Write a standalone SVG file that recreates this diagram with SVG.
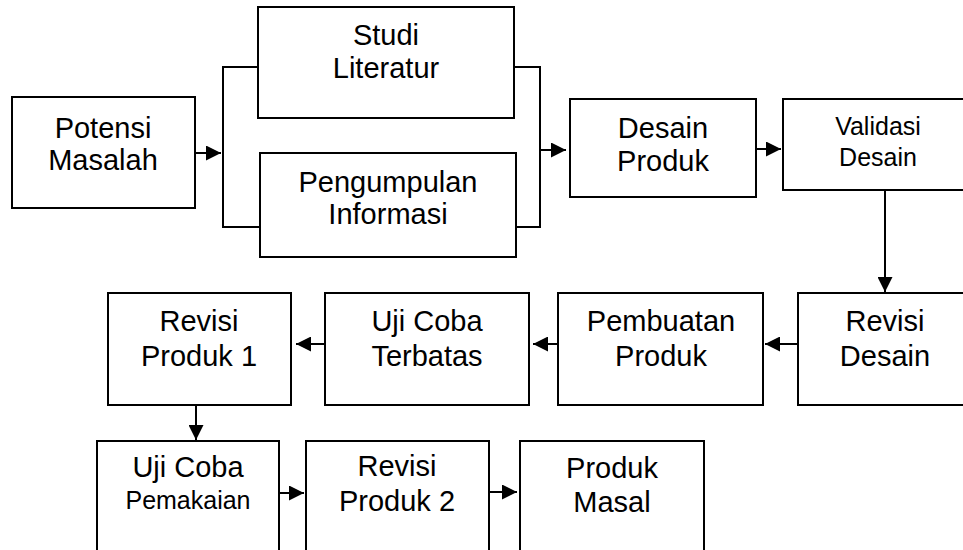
<svg xmlns="http://www.w3.org/2000/svg" width="963" height="550" viewBox="0 0 963 550">
<style>
.box{fill:#fff;stroke:#000;stroke-width:2}
.t{font-family:"Liberation Sans",Arial,sans-serif;font-size:29px;fill:#000;text-anchor:middle}
.s{font-size:25px}
.c{fill:none;stroke:#000;stroke-width:2}
</style>
<defs>
<marker id="ah" markerUnits="userSpaceOnUse" markerWidth="15" markerHeight="15" refX="15" refY="7.5" orient="auto">
<path d="M0,0 L15,7.5 L0,15 z" fill="#000"/>
</marker>
</defs>
<rect width="963" height="550" fill="#fff"/>
<g id="connectors">
<line class="c" x1="195" y1="153" x2="221" y2="153" marker-end="url(#ah)"/>
<path class="c" d="M258,67 H223 V227 H260"/>
<path class="c" d="M514,67 H540 V227 H516"/>
<line class="c" x1="540" y1="150" x2="566" y2="150" marker-end="url(#ah)"/>
<line class="c" x1="756" y1="149" x2="781" y2="149" marker-end="url(#ah)"/>
<line class="c" x1="885" y1="190" x2="885" y2="292" marker-end="url(#ah)"/>
<line class="c" x1="798" y1="344" x2="765" y2="344" marker-end="url(#ah)"/>
<line class="c" x1="558" y1="344" x2="533" y2="344" marker-end="url(#ah)"/>
<line class="c" x1="325" y1="344" x2="296" y2="344" marker-end="url(#ah)"/>
<line class="c" x1="196" y1="405" x2="196" y2="440" marker-end="url(#ah)"/>
<line class="c" x1="279" y1="493" x2="304" y2="493" marker-end="url(#ah)"/>
<line class="c" x1="489" y1="492" x2="517" y2="492" marker-end="url(#ah)"/>
</g>
<g id="potensi">
<rect class="box" x="12" y="97" width="183" height="111"/>
<text class="t" x="103" y="138">Potensi</text>
<text class="t" x="103" y="170">Masalah</text>
</g>
<g id="studi">
<rect class="box" x="258" y="7" width="256" height="111"/>
<text class="t" x="386" y="45">Studi</text>
<text class="t" x="386" y="78">Literatur</text>
</g>
<g id="pengumpulan">
<rect class="box" x="260" y="153" width="256" height="104"/>
<text class="t" x="388" y="192">Pengumpulan</text>
<text class="t" x="388" y="224">Informasi</text>
</g>
<g id="desain">
<rect class="box" x="570" y="99" width="186" height="98"/>
<text class="t" x="663" y="138">Desain</text>
<text class="t" x="663" y="171">Produk</text>
</g>
<g id="validasi">
<rect class="box" x="783" y="99" width="190" height="91"/>
<text class="t s" x="878" y="135">Validasi</text>
<text class="t s" x="878" y="166">Desain</text>
</g>
<g id="revisi-desain">
<rect class="box" x="798" y="293" width="175" height="112"/>
<text class="t" x="885" y="331">Revisi</text>
<text class="t" x="885" y="366">Desain</text>
</g>
<g id="pembuatan">
<rect class="box" x="558" y="293" width="205" height="112"/>
<text class="t" x="661" y="331">Pembuatan</text>
<text class="t" x="661" y="366">Produk</text>
</g>
<g id="uji-terbatas">
<rect class="box" x="325" y="293" width="204" height="112"/>
<text class="t" x="427" y="331">Uji Coba</text>
<text class="t" x="427" y="366">Terbatas</text>
</g>
<g id="revisi-produk-1">
<rect class="box" x="108" y="293" width="183" height="112"/>
<text class="t" x="199" y="331">Revisi</text>
<text class="t" x="199" y="366">Produk 1</text>
</g>
<g id="uji-pemakaian">
<rect class="box" x="97" y="441" width="182" height="130"/>
<text class="t" x="188" y="477">Uji Coba</text>
<text class="t s" x="188" y="509">Pemakaian</text>
</g>
<g id="revisi-produk-2">
<rect class="box" x="306" y="441" width="183" height="130"/>
<text class="t" x="397" y="476">Revisi</text>
<text class="t" x="397" y="511">Produk 2</text>
</g>
<g id="produk-masal">
<rect class="box" x="520" y="441" width="184" height="130"/>
<text class="t" x="612" y="478">Produk</text>
<text class="t" x="612" y="512">Masal</text>
</g>
</svg>
